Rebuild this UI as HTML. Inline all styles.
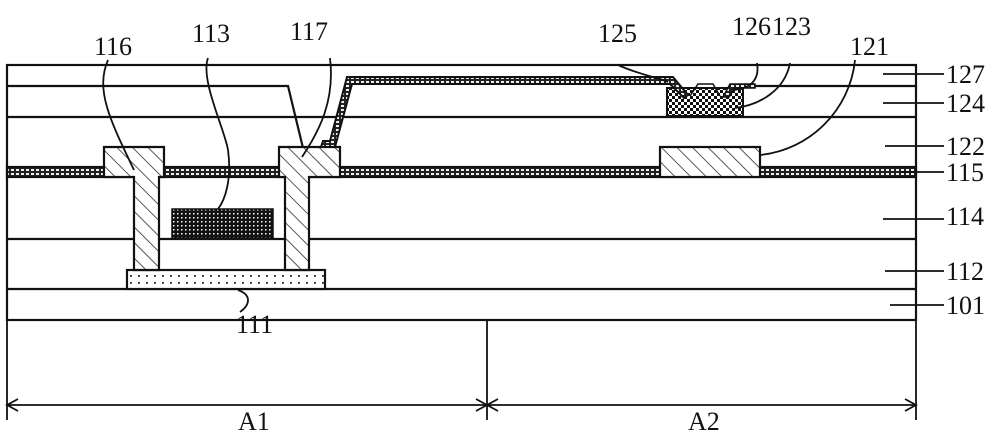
<!DOCTYPE html>
<html><head><style>body{margin:0;background:#fff}svg{display:block}text{font-family:"Liberation Serif",serif;font-size:26px;fill:#111}</style></head><body>
<svg width="1000" height="434" viewBox="0 0 1000 434" xmlns="http://www.w3.org/2000/svg">
<defs>
<pattern id="hatch" width="11" height="11" patternUnits="userSpaceOnUse" patternTransform="rotate(-45)"><rect width="11" height="11" fill="#fff"/><line x1="0" y1="0" x2="0" y2="11" stroke="#222" stroke-width="1.5"/></pattern>
<pattern id="dots" width="8" height="7" patternUnits="userSpaceOnUse"><rect width="8" height="7" fill="#fff"/><rect x="2" y="2" width="1.8" height="1.8" fill="#222"/></pattern>
<pattern id="dense" width="4" height="4" patternUnits="userSpaceOnUse"><rect width="4" height="4" fill="#111"/><rect x="1" y="1" width="1.5" height="1.5" fill="#fff"/></pattern>
<pattern id="chk" width="6" height="6" patternUnits="userSpaceOnUse"><rect width="6" height="6" fill="#fff"/><rect width="3" height="3" fill="#111"/><rect x="3" y="3" width="3" height="3" fill="#111"/></pattern>
<pattern id="band" width="5" height="4" patternUnits="userSpaceOnUse"><rect width="5" height="4" fill="#222"/><rect x="1" y="1" width="3" height="2" fill="#eee"/></pattern>
</defs>
<g stroke="#111" stroke-width="2.2" fill="none">
<rect x="7" y="65" width="909" height="255"/>
<line x1="7" y1="117" x2="916" y2="117"/>
<line x1="7" y1="239" x2="916" y2="239"/>
<line x1="7" y1="289" x2="916" y2="289"/>
<polyline points="7,86 288,86 303,148"/>
<line x1="755" y1="86" x2="916" y2="86"/>
</g>
<rect x="7" y="167" width="909" height="10" fill="url(#band)" stroke="#111" stroke-width="2.2"/>
<rect x="127" y="270" width="198" height="19" fill="url(#dots)" stroke="#111" stroke-width="2.2"/>
<rect x="172" y="209" width="101" height="29" fill="url(#dense)" stroke="#111" stroke-width="1.5"/>
<path d="M104,147 H164 V177 H159 V270 H134 V177 H104 Z" fill="url(#hatch)" stroke="#111" stroke-width="2.2"/>
<path d="M279,147 H340 V177 H309 V270 H285 V177 H279 Z" fill="url(#hatch)" stroke="#111" stroke-width="2.2"/>
<rect x="660" y="147" width="100" height="30" fill="url(#hatch)" stroke="#111" stroke-width="2.2"/>
<rect x="667" y="88" width="76" height="28" fill="url(#chk)" stroke="#111" stroke-width="2"/>
<path d="M321,147 L323,141 H330 L347,77 H673 L688,95 L684,98 L670,84 H352 L335,147 Z" fill="url(#band)" stroke="#111" stroke-width="2"/>
<path d="M723,97 L730,84 H755 V88 H735 L729,97 Z" fill="url(#band)" stroke="#111" stroke-width="1.5"/>
<polyline points="690,96 698,84 713,84 720,96" fill="none" stroke="#111" stroke-width="1.5"/>
<g stroke="#111" stroke-width="1.8" fill="none">
<path d="M108,60 C95,90 110,120 134,170"/>
<path d="M208,58 C200,80 225,130 228,150 C232,180 225,200 218,209"/>
<path d="M330,58 C335,100 320,130 302,157"/>
<path d="M618,65 C640,75 660,78 668,82"/>
<path d="M757,63 C760,80 750,90 730,90"/>
<path d="M790,63 C785,90 760,105 735,108"/>
<path d="M855,60 C850,110 810,150 760,155"/>
<path d="M238,290 C252,295 250,305 240,312"/>
<line x1="883" y1="74" x2="944" y2="74"/>
<line x1="883" y1="103" x2="944" y2="103"/>
<line x1="885" y1="146" x2="944" y2="146"/>
<line x1="900" y1="172" x2="944" y2="172"/>
<line x1="883" y1="219" x2="944" y2="219"/>
<line x1="885" y1="271" x2="944" y2="271"/>
<line x1="890" y1="305" x2="944" y2="305"/>
<line x1="7" y1="320" x2="7" y2="420"/>
<line x1="487" y1="320" x2="487" y2="420"/>
<line x1="916" y1="320" x2="916" y2="420"/>
<line x1="7" y1="405" x2="916" y2="405"/>
<polyline points="18,399 7,405 18,411"/>
<polyline points="476,399 487,405 476,411"/>
<polyline points="498,399 487,405 498,411"/>
<polyline points="905,399 916,405 905,411"/>
</g>
<text x="94" y="55">116</text><text x="192" y="42">113</text><text x="290" y="40">117</text>
<text x="236" y="333">111</text>
<text x="598" y="42">125</text><text x="732" y="35">126</text><text x="772" y="35">123</text><text x="850" y="55">121</text>
<text x="946" y="83">127</text><text x="946" y="112">124</text><text x="946" y="155">122</text><text x="946" y="181">115</text><text x="946" y="225">114</text><text x="946" y="280">112</text><text x="946" y="314">101</text>
<text x="238" y="430">A1</text><text x="688" y="430">A2</text>
</svg>
</body></html>
